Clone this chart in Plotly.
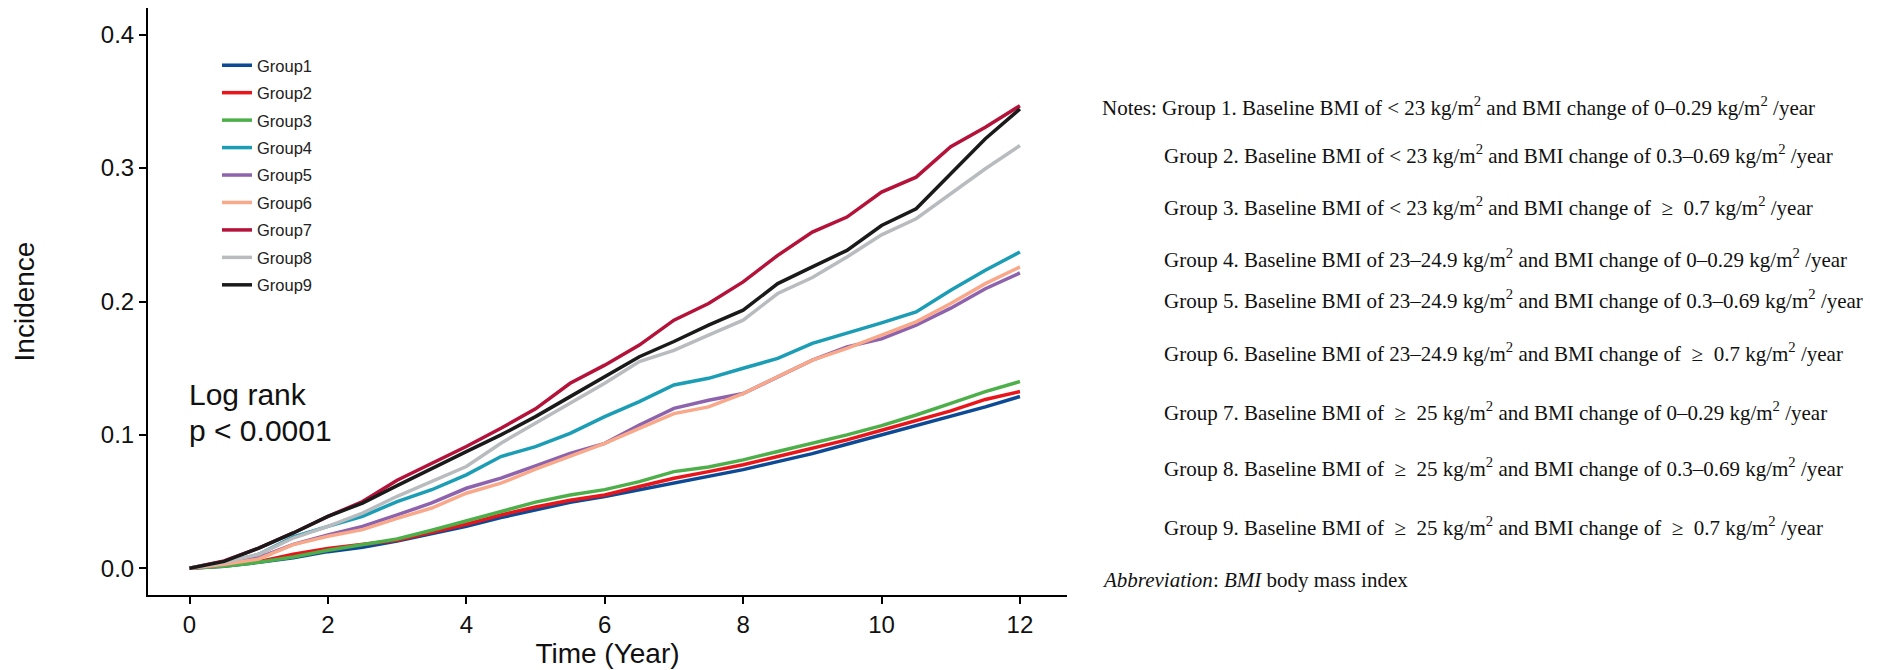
import plotly.graph_objects as go

# ---------------- data ----------------
time_years = [0, 0.5, 1, 1.5, 2, 2.5, 3, 3.5, 4, 4.5, 5, 5.5, 6, 6.5, 7, 7.5, 8, 8.5, 9, 9.5, 10, 10.5, 11, 11.5, 12]

group1 = [0, 0.0015, 0.0045, 0.008, 0.0125, 0.0158, 0.0205, 0.026, 0.0315, 0.038, 0.044, 0.0495, 0.0538, 0.0589, 0.064, 0.069, 0.074, 0.080, 0.086, 0.093, 0.100, 0.107, 0.1145, 0.121, 0.1288]
group2 = [0, 0.002, 0.005, 0.0105, 0.0148, 0.0178, 0.021, 0.027, 0.033, 0.040, 0.046, 0.051, 0.055, 0.0613, 0.0675, 0.0725, 0.0776, 0.0838, 0.090, 0.0963, 0.1035, 0.111, 0.118, 0.1266, 0.1325]
group3 = [0, 0.0015, 0.0045, 0.0085, 0.0135, 0.0175, 0.022, 0.0285, 0.0355, 0.0425, 0.0496, 0.055, 0.059, 0.065, 0.0725, 0.076, 0.0813, 0.0876, 0.0937, 0.100, 0.107, 0.1149, 0.1237, 0.1324, 0.140]
group4 = [0, 0.004, 0.0105, 0.0235, 0.0314, 0.039, 0.050, 0.0589, 0.0701, 0.0838, 0.0912, 0.1012, 0.1137, 0.125, 0.1374, 0.1424, 0.150, 0.1573, 0.1686, 0.176, 0.184, 0.1922, 0.2085, 0.2234, 0.2371]
group5 = [0, 0.003, 0.008, 0.018, 0.025, 0.0314, 0.040, 0.049, 0.060, 0.0676, 0.0768, 0.0862, 0.0937, 0.1074, 0.1199, 0.126, 0.131, 0.1436, 0.156, 0.166, 0.172, 0.1822, 0.195, 0.2096, 0.2214]
group6 = [0, 0.003, 0.007, 0.0178, 0.024, 0.029, 0.0374, 0.0452, 0.0563, 0.0638, 0.0743, 0.0837, 0.0937, 0.1049, 0.116, 0.121, 0.131, 0.1436, 0.156, 0.1648, 0.175, 0.1847, 0.1985, 0.2134, 0.2259]
group7 = [0, 0.0055, 0.0152, 0.0265, 0.0389, 0.050, 0.066, 0.0788, 0.0913, 0.105, 0.1195, 0.1387, 0.1523, 0.1673, 0.186, 0.1985, 0.2147, 0.2346, 0.252, 0.2633, 0.282, 0.2932, 0.316, 0.3306, 0.3468]
group8 = [0, 0.0045, 0.0105, 0.0227, 0.0314, 0.0414, 0.054, 0.065, 0.0763, 0.0938, 0.1087, 0.1237, 0.1387, 0.155, 0.1634, 0.1748, 0.186, 0.206, 0.218, 0.2333, 0.250, 0.262, 0.281, 0.2995, 0.3169]
group9 = [0, 0.0052, 0.0152, 0.0265, 0.0389, 0.0489, 0.062, 0.075, 0.0875, 0.100, 0.1137, 0.1287, 0.1437, 0.1586, 0.170, 0.1823, 0.1935, 0.2134, 0.226, 0.2383, 0.257, 0.2695, 0.2957, 0.322, 0.3443]

group_names = ["Group1", "Group2", "Group3", "Group4", "Group5", "Group6", "Group7", "Group8", "Group9"]
group_values = [group1, group2, group3, group4, group5, group6, group7, group8, group9]
group_colors = ["#0c4a96", "#e8161b", "#4daf4a", "#1a9db5", "#8e63ae", "#f9a88a", "#b5123a", "#b8bcbe", "#1a1a1a"]

x_ticks = [0, 2, 4, 6, 8, 10, 12]
y_ticks = [0.0, 0.1, 0.2, 0.3, 0.4]

stat_lines = ["Log rank", "p < 0.0001"]

NB = "\u00a0"
notes_lines = [
    "Notes: Group 1. Baseline BMI of < 23 kg/m<sup>2</sup> and BMI change of 0\u20130.29 kg/m<sup>2</sup> /year",
    "Group 2. Baseline BMI of < 23 kg/m<sup>2</sup> and BMI change of 0.3\u20130.69 kg/m<sup>2</sup> /year",
    f"Group 3. Baseline BMI of < 23 kg/m<sup>2</sup> and BMI change of {NB}\u2265{NB}{NB}0.7 kg/m<sup>2</sup> /year",
    "Group 4. Baseline BMI of 23\u201324.9 kg/m<sup>2</sup> and BMI change of 0\u20130.29 kg/m<sup>2</sup> /year",
    "Group 5. Baseline BMI of 23\u201324.9 kg/m<sup>2</sup> and BMI change of 0.3\u20130.69 kg/m<sup>2</sup> /year",
    f"Group 6. Baseline BMI of 23\u201324.9 kg/m<sup>2</sup> and BMI change of {NB}\u2265{NB}{NB}0.7 kg/m<sup>2</sup> /year",
    f"Group 7. Baseline BMI of {NB}\u2265{NB}{NB}25 kg/m<sup>2</sup> and BMI change of 0\u20130.29 kg/m<sup>2</sup> /year",
    f"Group 8. Baseline BMI of {NB}\u2265{NB}{NB}25 kg/m<sup>2</sup> and BMI change of 0.3\u20130.69 kg/m<sup>2</sup> /year",
    f"Group 9. Baseline BMI of {NB}\u2265{NB}{NB}25 kg/m<sup>2</sup> and BMI change of {NB}\u2265{NB}{NB}0.7 kg/m<sup>2</sup> /year",
    "<i>Abbreviation</i>: <i>BMI</i> body mass index",
]

# ---------------- layout geometry ----------------
W, H = 1892, 670
ML, MR, MT, MB = 148, 825, 8, 75
PW = W - ML - MR
PH = H - MT - MB

def px_x(X):
    return (X - ML) / PW

def px_y(Y):
    return (H - MB - Y) / PH

SANS = "Liberation Sans, Arial, sans-serif"
SERIF = "Liberation Serif, Times New Roman, serif"

fig = go.Figure()
for name, vals, col in zip(group_names, group_values, group_colors):
    fig.add_trace(go.Scatter(
        x=time_years, y=vals, mode="lines", name=name, legendgroup=name,
        line=dict(color=col, width=3.5),
    ))

annotations = []
# Log rank text inside the plot
stat_y = [0.130, 0.1035]
for txt, yy in zip(stat_lines, stat_y):
    annotations.append(dict(
        x=-0.04, y=yy, xref="x", yref="y", text=txt, showarrow=False,
        xanchor="left", yanchor="middle",
        font=dict(family=SANS, size=30, color="#111111"),
    ))

# Notes block
notes_x = [1100] + [1162] * 8 + [1100]
notes_y = [106, 155, 206, 258, 299, 352, 411, 468, 526, 580]
for txt, X, Y in zip(notes_lines, notes_x, notes_y):
    annotations.append(dict(
        x=px_x(X), y=px_y(Y), xref="paper", yref="paper", text=txt, showarrow=False,
        xanchor="left", yanchor="middle",
        font=dict(family=SERIF, size=21, color="#111111"),
    ))

fig.update_layout(
    width=W, height=H,
    margin=dict(l=ML, r=MR, t=MT, b=MB, pad=0),
    paper_bgcolor="white", plot_bgcolor="white",
    template=None,
    showlegend=True,
    legend=dict(
        x=px_x(217), y=px_y(48), xanchor="left", yanchor="top",
        font=dict(family=SANS, size=16.5, color="#222222"),
        bgcolor="rgba(0,0,0,0)", borderwidth=0,
        tracegroupgap=3, itemwidth=30,
    ),
    annotations=annotations,
    font=dict(family=SANS, color="#111111"),
)

fig.update_xaxes(
    range=[-0.6, 12.68], tickvals=x_ticks, ticktext=[str(v) for v in x_ticks],
    showline=True, linecolor="black", linewidth=2, mirror=False,
    ticks="outside", ticklen=7, tickwidth=2, tickcolor="black",
    showgrid=False, zeroline=False, automargin=False,
    tickfont=dict(family=SANS, size=24, color="#111111"),
    title=dict(text="Time (Year)", font=dict(family=SANS, size=28, color="#111111"), standoff=4),
)
fig.update_yaxes(
    range=[-0.02, 0.42], tickvals=y_ticks, ticktext=[f"{v:.1f}" for v in y_ticks],
    showline=True, linecolor="black", linewidth=2, mirror=False,
    ticks="outside", ticklen=7, tickwidth=2, tickcolor="black",
    showgrid=False, zeroline=False, automargin=False,
    tickfont=dict(family=SANS, size=24, color="#111111"),
    title=dict(text="Incidence", font=dict(family=SANS, size=28, color="#111111"), standoff=58),
)

fig.write_html("out.html")
